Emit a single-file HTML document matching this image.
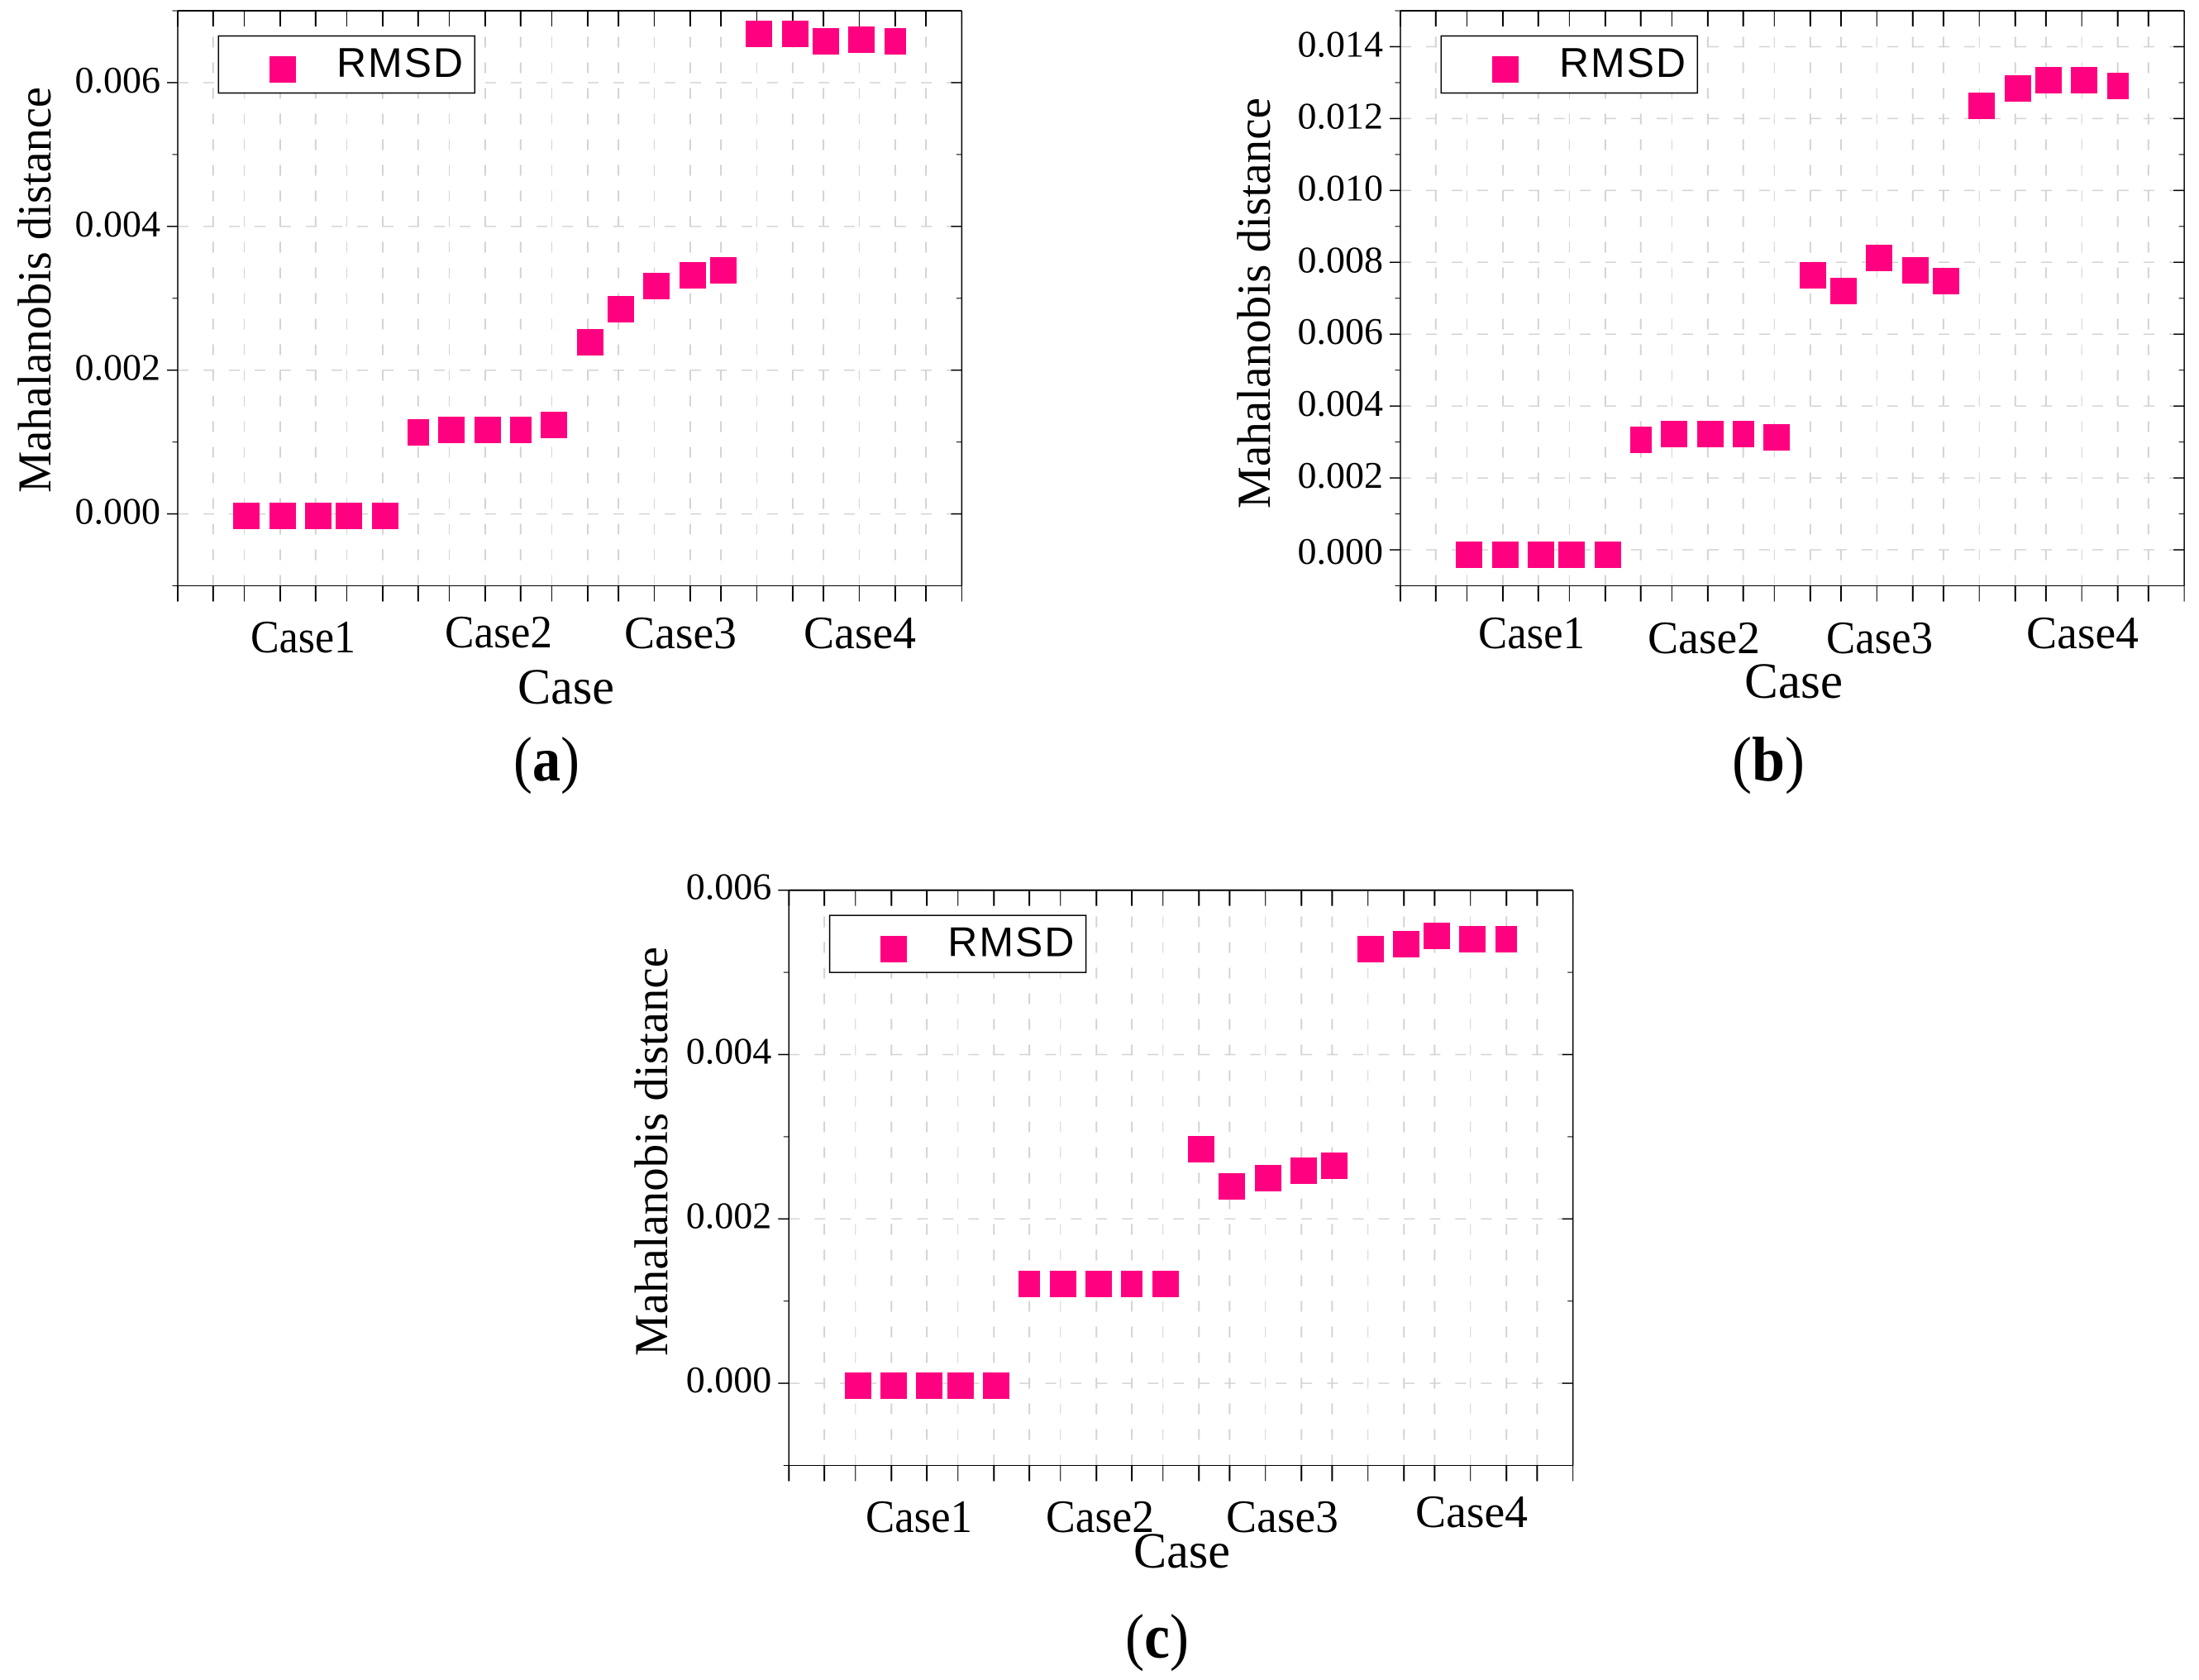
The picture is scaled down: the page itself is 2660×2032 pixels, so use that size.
<!DOCTYPE html>
<html lang="en">
<head>
<meta charset="utf-8">
<title>Mahalanobis distance by case</title>
<style>
html,body{margin:0;padding:0;background:#fff;}
svg{display:block;}
text{fill:#000;}
</style>
</head>
<body>
<svg id="figure" xmlns="http://www.w3.org/2000/svg" width="2660" height="2032" viewBox="0 0 2660 2032"></svg>
<script>
const categories = ['Case1', 'Case2', 'Case3', 'Case4'];
const pointsPerCase = 5;
const seriesName = 'RMSD';
const xTitle = 'Case';
const yTitle = 'Mahalanobis distance';

const panelAValues = [-0.00003, -0.00003, -0.00003, -0.00003, -0.00003,
  0.00113, 0.00117, 0.00117, 0.00117, 0.00124,
  0.00239, 0.00285, 0.00317, 0.00332, 0.00339,
  0.00668, 0.00668, 0.00657, 0.00660, 0.00657];
const panelBValues = [-0.00014, -0.00014, -0.00014, -0.00014, -0.00014,
  0.00307, 0.00321, 0.00321, 0.00321, 0.00314,
  0.00764, 0.00720, 0.00813, 0.00777, 0.00748,
  0.01236, 0.01284, 0.01307, 0.01307, 0.01291];
const panelCValues = [-0.00003, -0.00003, -0.00003, -0.00003, -0.00003,
  0.00121, 0.00121, 0.00121, 0.00121, 0.00121,
  0.00285, 0.00240, 0.00250, 0.00259, 0.00265,
  0.00528, 0.00534, 0.00544, 0.00540, 0.00540];

const panelATicks = [0.000, 0.002, 0.004, 0.006];
const panelBTicks = [0.000, 0.002, 0.004, 0.006, 0.008, 0.010, 0.012, 0.014];
const panelCTicks = [0.000, 0.002, 0.004, 0.006];

const svg = document.getElementById('figure');
const NS = 'http://www.w3.org/2000/svg';
const SERIF = '"Liberation Serif", serif';
const SANS = '"Liberation Sans", sans-serif';
const PINK = '#ff0080';
const GRID = '#d3d3d3';

function make(tag, name, parent, attrs) {
  const el = document.createElementNS(NS, tag);
  
  
  for (const k in attrs) el.setAttribute(k, attrs[k]);
  parent.appendChild(el);
  return el;
}
function label(name, parent, str, x, y, size, family, extra) {
  const attrs = Object.assign({x: x, y: y, 'font-size': size, 'font-family': family}, extra || {});
  const el = make('text', name, parent, attrs);
  el.textContent = str;
  return el;
}

function drawPanel(cfg, values, ticks) {
  const g = make('g', 'panel-' + cfg.id, svg, {});
  const tickCount = 24;
  const rasterShift = i => {
    if (i % 3 === 2) return -2.2;
    if (i % 3 === 1) return i < 12 ? 1.5 : -4.2;
    return 0;
  };
  const xAt = i => cfg.left + cfg.step * i + rasterShift(i);
  const yAt = v => cfg.bottom - (v - cfg.yMin) / (cfg.yMax - cfg.yMin) * (cfg.bottom - cfg.top);
  const right = xAt(tickCount - 1);

  const grid = make('g', 'grid-' + cfg.id, g, {});
  for (let i = 1; i < tickCount - 1; i++) {
    make('line', 'vertical-gridline', grid, {x1: xAt(i), x2: xAt(i), y1: cfg.bottom, y2: cfg.top,
      stroke: GRID, 'stroke-width': i % 3 === 2 ? 1 : 2, 'stroke-dasharray': '13 18'});
  }
  ticks.forEach(v => {
    make('line', 'horizontal-gridline', grid, {x1: cfg.left, x2: right, y1: yAt(v), y2: yAt(v),
      stroke: GRID, 'stroke-width': 1.5, 'stroke-dasharray': '13 18'});
  });

  const axes = make('g', 'axes-' + cfg.id, g, {});
  make('line', 'top-axis', axes, {x1: cfg.left, x2: right, y1: cfg.top, y2: cfg.top, stroke: '#000', 'stroke-width': 2});
  make('line', 'bottom-axis', axes, {x1: cfg.left, x2: right, y1: cfg.bottom, y2: cfg.bottom, stroke: '#000', 'stroke-width': 1});
  make('line', 'left-axis', axes, {x1: cfg.left, x2: cfg.left, y1: cfg.top, y2: cfg.bottom, stroke: '#000', 'stroke-width': 1.5});
  make('line', 'right-axis', axes, {x1: right, x2: right, y1: cfg.top, y2: cfg.bottom, stroke: '#000', 'stroke-width': 1.5});

  for (let i = 0; i < tickCount; i++) {
    const w = i % 3 === 2 ? 1 : 2;
    make('line', 'x-tick-bottom', axes, {x1: xAt(i), x2: xAt(i), y1: cfg.bottom, y2: cfg.bottom + 19, stroke: '#000', 'stroke-width': w});
    make('line', 'x-tick-top', axes, {x1: xAt(i), x2: xAt(i), y1: cfg.top, y2: cfg.top + 19, stroke: '#000', 'stroke-width': w});
  }

  const majorStep = ticks[1] - ticks[0];
  for (let k = 0, v = cfg.yMin; v <= cfg.yMax + 1e-9; k++, v = cfg.yMin + k * majorStep / 2) {
    const isMajor = ticks.some(t => Math.abs(t - v) < 1e-9);
    const len = isMajor ? 13 : 6.5;
    make('line', isMajor ? 'y-tick-major' : 'y-tick-minor', axes, {x1: cfg.left - len, x2: cfg.left, y1: yAt(v), y2: yAt(v), stroke: '#000', 'stroke-width': isMajor ? 1.5 : 1});
    make('line', isMajor ? 'y-tick-major-right' : 'y-tick-minor-right', axes, {x1: right - len, x2: right, y1: yAt(v), y2: yAt(v), stroke: '#000', 'stroke-width': isMajor ? 1.5 : 1});
  }

  ticks.forEach(v => {
    const dy = (v === 0 ? cfg.zeroLabelDy : 0) + cfg.labelDy;
    label('y-tick-label', g, v.toFixed(3), cfg.left - 21, yAt(v) + dy, 46, SERIF, {'text-anchor': 'end'});
  });

  const marks = make('g', 'series-rmsd-' + cfg.id, g, {});
  values.forEach((v, n) => {
    const slot = n + 2;
    const narrow = slot === 7 || slot === 10 || slot === 21;
    const w = narrow ? 26 : 32;
    const h = 32;
    const cx = xAt(slot) + (narrow ? 0 : 2.8);
    const cy = yAt(v);
    make('rect', 'rmsd-point', marks, {x: Math.round(cx - w / 2), y: Math.round(cy - h / 2), width: w, height: h, fill: PINK, 'shape-rendering': 'crispEdges'});
  });

  categories.forEach((c, i) => {
    const p = cfg.cats[i];
    label('category-label-' + c.toLowerCase(), g, c, p[0], p[2], 56, SERIF, {textLength: p[1] - p[0], lengthAdjust: 'spacingAndGlyphs'});
  });
  label('x-axis-title', g, xTitle, cfg.xt[0], cfg.xt[2], 61, SERIF, {textLength: cfg.xt[1] - cfg.xt[0], lengthAdjust: 'spacingAndGlyphs'});

  const yt = cfg.yt;
  label('y-axis-title', g, yTitle, 0, 0, 57, SERIF, {
    transform: 'translate(' + yt[0] + ',' + yt[2] + ') rotate(-90)',
    textLength: yt[2] - yt[1], lengthAdjust: 'spacingAndGlyphs'});

  const leg = make('g', 'legend-' + cfg.id, g, {});
  const lx = cfg.left + 49.3;
  const ly = cfg.top + 30.5;
  make('rect', 'legend-box', leg, {x: lx, y: ly, width: 310, height: 69, fill: '#fff', stroke: '#000', 'stroke-width': 1.5});
  make('rect', 'legend-marker', leg, {x: Math.round(cfg.left + 111), y: Math.round(cfg.top + 55), width: 32, height: 32, fill: PINK, 'shape-rendering': 'crispEdges'});
  label('legend-label', leg, seriesName, cfg.left + 192, cfg.top + 80, 50, SANS, {textLength: 153, lengthAdjust: 'spacing'});

  const cap = make('text', 'panel-caption-' + cfg.id, g, {x: cfg.cap[0], y: cfg.cap[1], 'font-size': 76, 'font-family': SERIF, textLength: cfg.cap[2], lengthAdjust: 'spacingAndGlyphs'});
  const open = document.createElementNS(NS, 'tspan');
  open.textContent = '(';
  cap.appendChild(open);
  const letter = document.createElementNS(NS, 'tspan');
  letter.setAttribute('font-weight', 'bold');
  letter.textContent = cfg.id;
  cap.appendChild(letter);
  const close = document.createElementNS(NS, 'tspan');
  close.textContent = ')';
  cap.appendChild(close);
}

drawPanel({
  id: 'a', left: 215, step: 41.33, top: 13, bottom: 708.5, yMin: -0.001, yMax: 0.007, zeroLabelDy: 0, labelDy: 12,
  cats: [[303, 430, 789], [538, 668, 783], [755, 891, 784], [972, 1108, 784]],
  xt: [626, 743, 851], yt: [61, 105, 596], cap: [621, 944, 80]
}, panelAValues, panelATicks);

drawPanel({
  id: 'b', left: 1694, step: 41.32, top: 13, bottom: 708.5, yMin: -0.001, yMax: 0.015, zeroLabelDy: 5, labelDy: 12,
  cats: [[1788, 1917, 784], [1993, 2129, 790], [2209, 2338, 790], [2451, 2587, 784]],
  xt: [2110, 2229, 844], yt: [1536, 118, 615], cap: [2095, 944, 88]
}, panelBValues, panelBTicks);

drawPanel({
  id: 'c', left: 954.3, step: 41.33, top: 1076.7, bottom: 1772.5, yMin: -0.001, yMax: 0.006, zeroLabelDy: 0, labelDy: 11,
  cats: [[1047, 1176, 1853], [1265, 1396, 1853], [1483, 1619, 1853], [1712, 1848, 1847]],
  xt: [1371, 1488, 1896], yt: [807, 1145, 1640], cap: [1361, 2005, 77]
}, panelCValues, panelCTicks);
</script>
</body>
</html>
